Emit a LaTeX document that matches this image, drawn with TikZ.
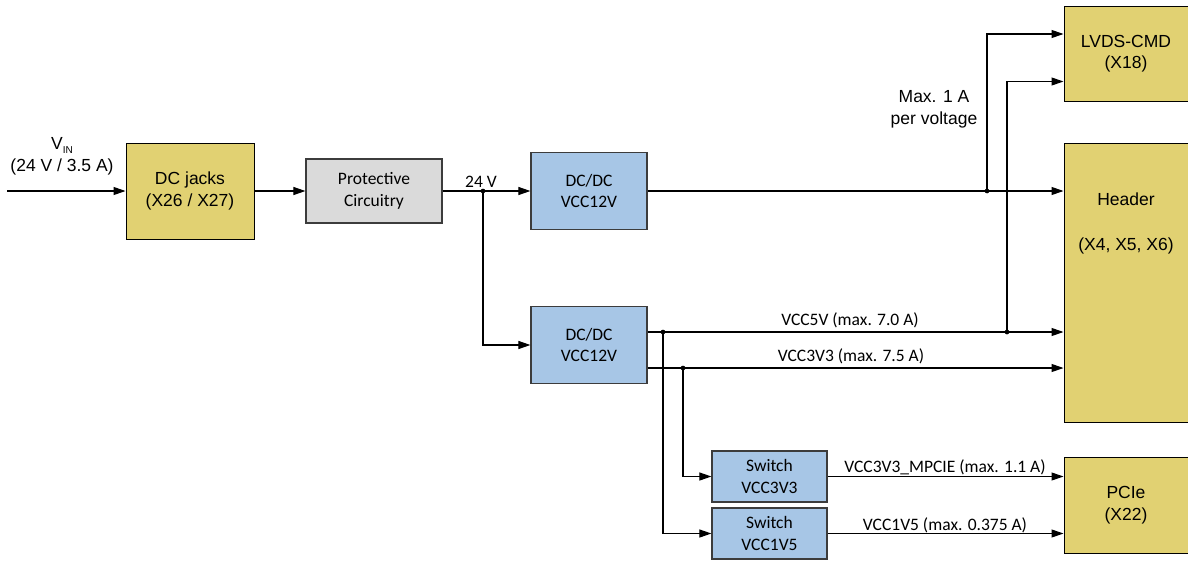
\documentclass[tikz,border=0pt]{standalone}
\usepackage{fontspec}
\setmainfont{Liberation Sans}
\newfontfamily\calibri{Carlito}
\usetikzlibrary{arrows.meta}

\definecolor{padyellow}{RGB}{225,209,114}
\definecolor{convblue}{RGB}{167,198,230}
\definecolor{protgrey}{RGB}{218,218,218}
\definecolor{edgegrey}{RGB}{60,60,60}

\tikzset{
  txt/.style={font=\fontsize{17.5}{21.5}\selectfont},
  ctxt/.style={font=\calibri\fontsize{17.5}{21.5}\selectfont},
  port/.style={txt, draw=black, fill=padyellow, line width=1pt, align=center, inner sep=0pt},
  conv/.style={ctxt, draw=edgegrey, fill=convblue, line width=1.2pt, align=center, inner sep=0pt},
  prot/.style={ctxt, draw=edgegrey, fill=protgrey, line width=1.2pt, align=center, inner sep=0pt},
  wire/.style={draw=black, line width=1.1pt},
  feed/.style={wire, -{Triangle[length=12pt,width=8pt]}},
  dot/.style={circle, fill=black, inner sep=0pt, minimum size=4.5pt},
}

\begin{document}
\begin{tikzpicture}[x=1pt, y=-1pt]
\useasboundingbox (0,0) rectangle (1188,560);

% blocks
\node[port, minimum width=128pt, minimum height=96pt] (jacks) at (190,191) {DC jacks\\(X26 / X27)};
\node[prot, minimum width=136pt, minimum height=64pt] (protc) at (374,191) {Protective\\Circuitry};
\node[conv, minimum width=116pt, minimum height=77pt] (dcA) at (589,191) {DC/DC\\VCC12V};
\node[conv, minimum width=116pt, minimum height=77pt] (dcB) at (589,345) {DC/DC\\VCC12V};
\node[conv, minimum width=115pt, minimum height=51pt] (swA) at (769.5,476.5) {Switch\\VCC3V3};
\node[conv, minimum width=115pt, minimum height=51pt] (swB) at (769.5,533.5) {Switch\\VCC1V5};
\node[port, minimum width=124pt, minimum height=95pt] (lvds) at (1126,53.5) {LVDS-CMD\\(X18)};
\node[port, minimum width=124pt, minimum height=279pt] (hdr) at (1126,282.5) {};
\node[txt, align=center] (hdrtext) at (1126,223.5) {Header\\[23.5pt](X4, X5, X6)};
\node[port, minimum width=124pt, minimum height=96pt] (pcie) at (1126,505) {PCIe\\(X22)};

% junctions
\node[dot] (j24) at (483,191) {};
\node[dot] (jA) at (987,191) {};
\node[dot] (jB) at (1007,332) {};
\node[dot] (jC) at (663,332) {};
\node[dot] (jD) at (683,368) {};

\coordinate (vin) at (7,191);
\coordinate (outfive) at ([yshift=13pt]dcB.east);
\coordinate (outthree) at ([yshift=-23pt]dcB.east);

% input chain
\draw[feed] (vin) -- (jacks.west);
\draw[feed] (jacks.east) -- (protc.west);
\draw[feed] (protc.east) -- (dcA.west);
\draw[feed] (j24) |- (dcB.west);

% 12 V rail
\draw[feed] (dcA.east) -- (dcA.east -| hdr.west);
\draw[feed] (jA) |- ([yshift=19.5pt]lvds.west);

% 5 V and 3.3 V rails
\draw[feed] (outfive) -- (outfive -| hdr.west);
\draw[feed] (outthree) -- (outthree -| hdr.west);
\draw[feed] (jB) |- ([yshift=-28pt]lvds.west);
\draw[feed] (jD) |- (swA.west);
\draw[feed] (jC) |- (swB.west);

% PCIe supplies
\draw[feed] (swA.east) -- (swA.east -| pcie.west);
\draw[feed] (swB.east) -- (swB.east -| pcie.west);

% redraw dots on top
\foreach \j in {j24,jA,jB,jC,jD} \fill (\j) circle (2.25pt);

% labels
\node[txt] (vinlbl) at (62,145) {V\raisebox{-4pt}{\fontsize{10}{10}\selectfont IN}};
\node[txt] (vinval) at (62,167) {(24 V / 3.5 A)};
\node[ctxt] (lbl24) at (481,182) {24 V};
\node[txt, align=center] (maxlbl) at (934,109.5) {Max. 1 A\\per voltage};
\node[ctxt] (lblfive) at (850,320) {VCC5V (max. 7.0 A)};
\node[ctxt] (lblthree) at (851,356) {VCC3V3 (max. 7.5 A)};
\node[ctxt] (lblmpcie) at (945,467) {VCC3V3\_MPCIE (max. 1.1 A)};
\node[ctxt] (lblonefive) at (945,525) {VCC1V5 (max. 0.375 A)};
\end{tikzpicture}
\end{document}
